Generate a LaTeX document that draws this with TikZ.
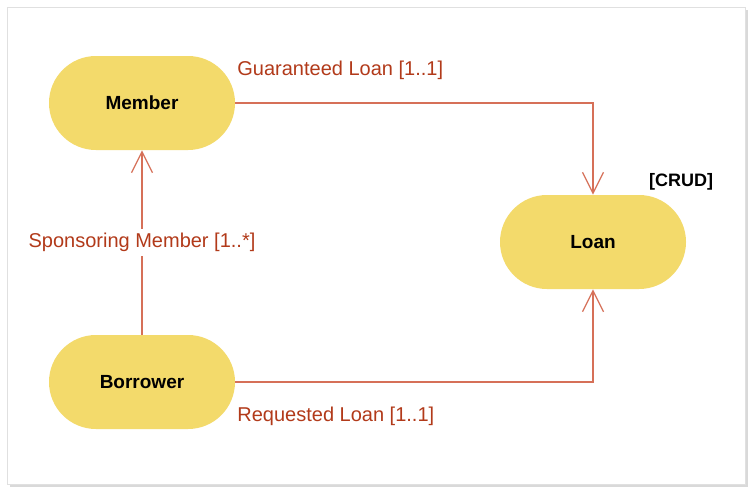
\documentclass[tikz,border=0pt]{standalone}
\usepackage{fontspec}
\setmainfont{Liberation Sans}
\usepackage{tikz}
\usetikzlibrary{
  arrows.meta,%
  positioning
}
\definecolor{entityfill}{RGB}{243,218,107}
\definecolor{linkline}{RGB}{214,112,88}
\definecolor{linktext}{RGB}{178,58,26}
\tikzset{>={Straight Barb[length=10.5pt, width=10.5pt]}}
\tikzset{entity/.style={fill=entityfill, rectangle, rounded corners=23.5pt,
  minimum width=93pt, minimum height=47pt, inner sep=0pt,
  font=\fontsize{9.5}{11}\selectfont\bfseries}}
\tikzset{role/.style={text=linktext, font=\fontsize{10}{12}\selectfont, inner sep=1pt}}
\tikzset{link/.style={draw=linkline, line width=0.6pt}}

\begin{document}
\begin{tikzpicture}[x=0.5pt, y=-0.5pt]
          \useasboundingbox (0,0) rectangle (753,493); %
          % frame with shadow
          \fill[black!15] (10,10) rectangle (748,487); %
          \draw[black!12, fill=white] (7,7) rectangle (745,484); %
          \node[entity] (member) at (142,103) {Member}; %
          \node[entity] (borrower) at (142,382) {Borrower}; %
          \node[entity] (loan) at (593,242) {Loan}; %
          \node[font=\fontsize{9}{11}\selectfont\bfseries, inner sep=0pt] (crud) at (681,182) {[CRUD]}; %
          \draw[link, ->] (member.east) -| (loan.north); %
          \draw[link, ->] (borrower.east) -| (loan.south); %
          \draw[link, ->] (borrower.north) -- node[role, fill=white, inner sep=2pt] (sponsor) {Sponsoring Member [1..*]} (member.south); %
          \node[role, anchor=west] (guaranteed) at (235,70) {Guaranteed Loan [1..1]}; %
          \node[role, anchor=west] (requested) at (235,416) {Requested Loan [1..1]}; %
        \end{tikzpicture}
\end{document}
